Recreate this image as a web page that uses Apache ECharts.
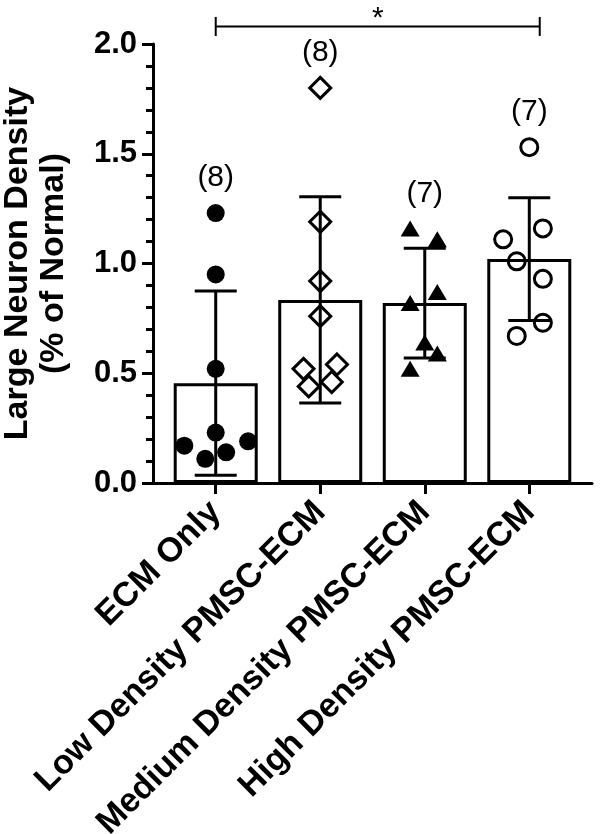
<!DOCTYPE html>
<html>
<head>
<meta charset="utf-8">
<script src="https://cdn.jsdelivr.net/npm/echarts@6/dist/echarts.min.js"></script>
<style>html,body{margin:0;padding:0;background:#fff}#c{width:600px;height:834px}</style>
</head>
<body>
<div id="c"></div>
<script>
// ---- data ----
const categories = ['ECM Only', 'Low Density PMSC-ECM', 'Medium Density PMSC-ECM', 'High Density PMSC-ECM'];
const ecmOnly       = [1.23, 0.95, 0.52, 0.23, 0.17, 0.11, 0.14, 0.19];
const ecmOnlyJitter = [0, 0, 0, 0, -0.30, -0.10, 0.10, 0.31];
const lowDensity       = [1.80, 1.19, 0.92, 0.76, 0.52, 0.54, 0.44, 0.46];
const lowDensityJitter = [0, 0, 0, 0, -0.16, 0.16, -0.11, 0.11];
const medDensity       = [1.16, 1.11, 0.82, 0.87, 0.64, 0.59, 0.52];
const medDensityJitter = [-0.14, 0.12, -0.14, 0.12, 0, 0.12, -0.14];
const highDensity       = [1.53, 1.16, 1.11, 1.01, 0.93, 0.73, 0.67];
const highDensityJitter = [0, 0.13, -0.25, -0.12, 0.13, 0.13, -0.12];
const means = [0.455, 0.834, 0.820, 1.020];
const sds   = [0.42, 0.47, 0.25, 0.28];
const nLabels = ['(8)', '(8)', '(7)', '(7)'];
const comparison = { from: 0, to: 3.1, y: 2.08, mark: '*' };

// ---- build ----
const groups = [ecmOnly, lowDensity, medDensity, highDensity];
const jitters = [ecmOnlyJitter, lowDensityJitter, medDensityJitter, highDensityJitter];
function pts(g) { return groups[g].map((v, k) => [g + jitters[g][k], v]); }
const FONT = '"Liberation Sans", Arial, sans-serif';

const chart = echarts.init(document.getElementById('c'), null, { renderer: 'canvas' });
chart.setOption({
  animation: false,
  backgroundColor: '#fff',
  grid: { left: 153, right: 8, top: 44, bottom: 351, containLabel: false, outerBoundsMode: 'none' },
  xAxis: {
    type: 'value', min: -0.6, max: 3.6,
    splitLine: { show: false },
    axisLine: { show: true, onZero: false, lineStyle: { color: '#000', width: 3 } },
    axisTick: { show: true, inside: false, length: 11, customValues: [0, 1, 2, 3], lineStyle: { color: '#000', width: 3 } },
    axisLabel: {
      customValues: [0, 1, 2, 3], rotate: 45, margin: 24,
      formatter: v => categories[Math.round(v)] || '',
      color: '#000', fontFamily: FONT, fontWeight: 'bold', fontSize: 34
    }
  },
  yAxis: {
    type: 'value', min: 0, max: 2, interval: 0.5,
    splitLine: { show: false },
    axisLine: { show: true, onZero: false, lineStyle: { color: '#000', width: 3 } },
    axisTick: { show: true, inside: false, length: 11, lineStyle: { color: '#000', width: 3 } },
    minorTick: { show: true, splitNumber: 5, length: 7, lineStyle: { color: '#000', width: 3 } },
    axisLabel: { margin: 16, formatter: v => v.toFixed(1), color: '#000', fontFamily: FONT, fontWeight: 'bold', fontSize: 31 },
    name: 'Large Neuron Density\n(% of Normal)',
    nameLocation: 'middle', nameGap: 81,
    nameTextStyle: { color: '#000', fontFamily: FONT, fontWeight: 'bold', fontSize: 34, lineHeight: 36 }
  },
  series: [
    {
      type: 'bar', barWidth: 84, z: 1,
      data: means.map((m, i) => [i, m]),
      itemStyle: { color: '#fff', borderColor: '#000', borderWidth: 3 }
    },
    {
      type: 'custom', z: 2, clip: false,
      data: means.map((m, i) => [i, m - sds[i], m + sds[i]]),
      renderItem: (params, api) => {
        const lo = api.coord([api.value(0), api.value(1)]);
        const hi = api.coord([api.value(0), api.value(2)]);
        const h = 21, st = { stroke: '#000', lineWidth: 3 };
        return { type: 'group', children: [
          { type: 'line', shape: { x1: lo[0], y1: lo[1], x2: hi[0], y2: hi[1] }, style: st },
          { type: 'line', shape: { x1: lo[0] - h, y1: lo[1], x2: lo[0] + h, y2: lo[1] }, style: st },
          { type: 'line', shape: { x1: hi[0] - h, y1: hi[1], x2: hi[0] + h, y2: hi[1] }, style: st }
        ] };
      }
    },
    { type: 'scatter', z: 3, data: pts(0), symbol: 'circle', symbolSize: 18, itemStyle: { color: '#000', opacity: 1 } },
    { type: 'scatter', z: 3, data: pts(1), symbol: 'diamond', symbolSize: [21, 21], itemStyle: { color: 'rgba(0,0,0,0)', borderColor: '#000', borderWidth: 3, opacity: 1 } },
    { type: 'scatter', z: 3, data: pts(2), symbol: 'triangle', symbolSize: [19, 16], itemStyle: { color: '#000', opacity: 1 } },
    { type: 'scatter', z: 3, data: pts(3), symbol: 'circle', symbolSize: 17, itemStyle: { color: 'rgba(0,0,0,0)', borderColor: '#000', borderWidth: 3, opacity: 1 } },
    {
      type: 'scatter', z: 4, symbolSize: 0, silent: true,
      itemStyle: { opacity: 1 },
      data: groups.map((g, i) => [i, Math.max.apply(null, g)]),
      label: {
        show: true, position: 'top', distance: 20,
        formatter: p => nLabels[p.dataIndex],
        color: '#000', fontFamily: FONT, fontSize: 30
      }
    },
    {
      type: 'custom', z: 5, clip: false,
      data: [[comparison.from, comparison.to, comparison.y]],
      renderItem: (params, api) => {
        const a = api.coord([api.value(0), api.value(2)]);
        const b = api.coord([api.value(1), api.value(2)]);
        const st = { stroke: '#000', lineWidth: 2 };
        return { type: 'group', children: [
          { type: 'line', shape: { x1: a[0], y1: a[1], x2: b[0], y2: b[1] }, style: st },
          { type: 'line', shape: { x1: a[0], y1: a[1] - 9.5, x2: a[0], y2: a[1] + 9.5 }, style: st },
          { type: 'line', shape: { x1: b[0], y1: b[1] - 9.5, x2: b[0], y2: b[1] + 9.5 }, style: st },
          { type: 'text', style: { text: comparison.mark, x: (a[0] + b[0]) / 2, y: a[1] + 7, align: 'center', verticalAlign: 'bottom', font: '30px ' + FONT, fill: '#000' } }
        ] };
      }
    }
  ]
});
</script>
</body>
</html>
